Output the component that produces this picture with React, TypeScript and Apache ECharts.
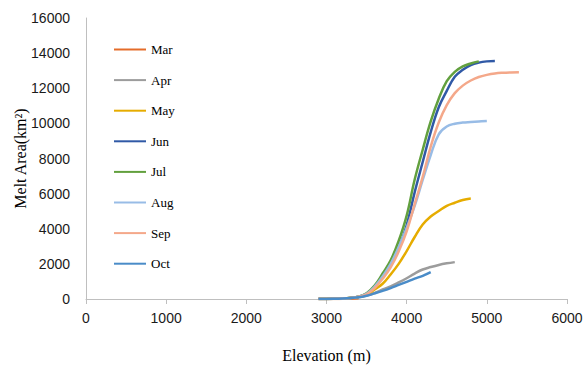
import React, { useEffect, useRef } from "react";
import * as echarts from "echarts";

const elevation = [
  2900, 3000, 3100, 3200, 3300, 3400, 3500, 3600, 3700, 3800, 3900, 4000, 4100,
  4200, 4300, 4400, 4500, 4600, 4700, 4800, 4900, 5000, 5100, 5200, 5300, 5400,
];

const months = ["Mar", "Apr", "May", "Jun", "Jul", "Aug", "Sep", "Oct"];

const mar = [0, 0, 0, 10, 20, 40];
const apr = [0, 0, 10, 30, 60, 100, 190, 340, 540, 720, 940, 1180, 1450, 1680, 1820, 1940, 2030, 2100];
const may = [0, 0, 10, 30, 70, 130, 230, 540, 870, 1400, 2000, 2730, 3530, 4240, 4700, 5010, 5300, 5480, 5640, 5720];
const jun = [0, 0, 10, 30, 60, 130, 300, 700, 1250, 1950, 2900, 4200, 6080, 7800, 9500, 10920, 11850, 12650, 13050, 13320, 13460, 13530, 13550];
const jul = [0, 0, 10, 30, 60, 130, 330, 760, 1450, 2200, 3300, 4750, 6800, 8500, 10110, 11400, 12400, 12930, 13240, 13410, 13530];
const aug = [0, 0, 10, 30, 60, 130, 300, 700, 1280, 2000, 2950, 4050, 5300, 6780, 8200, 9380, 9820, 9980, 10050, 10080, 10110, 10140];
const sep = [0, 0, 10, 30, 60, 130, 260, 620, 1150, 1800, 2700, 3850, 5400, 6950, 8680, 10050, 11040, 11720, 12150, 12440, 12640, 12760, 12840, 12880, 12900, 12910];
const oct = [0, 0, 10, 30, 60, 100, 190, 320, 460, 620, 800, 980, 1160, 1320, 1530];

const yTicks = { min: 0, max: 16000, interval: 2000 };
const xTicks = { min: 0, max: 6000, interval: 1000 };

const seriesValues = [mar, apr, may, jun, jul, aug, sep, oct];
const colors = ["#E46C2A", "#9C9C9C", "#E6AC00", "#3059A6", "#62A03E", "#98BCE6", "#F4A88A", "#4A8CC8"];

export default function App() {
  const ref = useRef<HTMLDivElement>(null);
  useEffect(() => {
    if (!ref.current) return;
    const chart = echarts.init(ref.current, undefined, { renderer: "svg" });
    const series = months.map((m, i) => ({
      name: m,
      type: "line",
      data: seriesValues[i].map((v, j) => [elevation[j], v]),
      symbol: "none",
      smooth: 0.4,
      lineStyle: { width: 2.5, color: colors[i] },
      itemStyle: { color: colors[i] },
      z: 2 + i,
    }));
    chart.setOption({
      animation: false,
      backgroundColor: "#fff",
      grid: { left: 86, right: 18, top: 18, bottom: 68, containLabel: false, outerBoundsMode: "none" },
      legend: {
        orient: "vertical",
        left: 113,
        top: 43,
        padding: 0,
        itemWidth: 32,
        itemHeight: 14,
        itemGap: 17.6,
        data: months,
        itemStyle: { opacity: 0 },
        textStyle: { fontFamily: "Liberation Serif", fontSize: 13, color: "#000" },
      },
      xAxis: {
        type: "value",
        min: xTicks.min,
        max: xTicks.max,
        interval: xTicks.interval,
        name: "Elevation (m)",
        nameLocation: "middle",
        nameGap: 48,
        nameMoveOverlap: false,
        nameTextStyle: { fontFamily: "Liberation Serif", fontSize: 16, color: "#000" },
        axisLine: { show: true, lineStyle: { color: "#bfbfbf", width: 1 } },
        axisTick: { show: true, length: 5, lineStyle: { color: "#bfbfbf" } },
        splitLine: { show: false },
        axisLabel: {
          fontFamily: "Liberation Sans",
          fontSize: 14,
          color: "#1a1a1a",
          margin: 12,
          formatter: (v: number) => String(v),
        },
      },
      yAxis: {
        type: "value",
        min: yTicks.min,
        max: yTicks.max,
        interval: yTicks.interval,
        name: "Melt Area(km²)",
        nameLocation: "middle",
        nameGap: 58,
        nameMoveOverlap: false,
        nameTextStyle: { fontFamily: "Liberation Serif", fontSize: 16, color: "#000" },
        axisLine: { show: true, lineStyle: { color: "#bfbfbf", width: 1 } },
        axisTick: { show: false },
        splitLine: { show: false },
        axisLabel: {
          fontFamily: "Liberation Sans",
          fontSize: 14,
          color: "#1a1a1a",
          margin: 16,
          formatter: (v: number) => String(v),
        },
      },
      series,
    });
    return () => chart.dispose();
  }, []);
  return (
    <div
      ref={ref}
      style={{ position: "fixed", left: 0, top: 0, width: 585, height: 367, background: "#fff" }}
    />
  );
}
